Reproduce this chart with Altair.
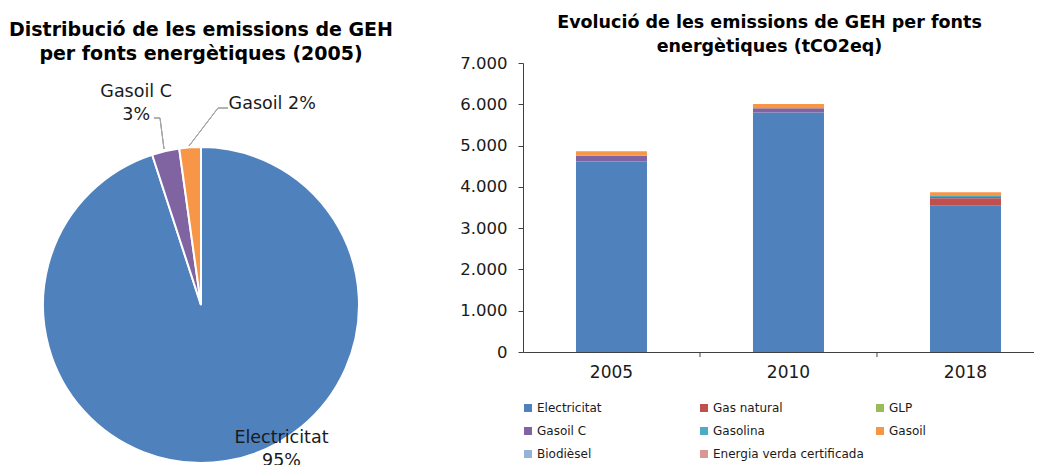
import altair as alt
import pandas as pd

years = ["2005", "2010", "2018"]
series = ["Electricitat", "Gas natural", "GLP", "Gasoil C", "Gasolina", "Gasoil",
          "Biodièsel", "Energia verda certificada"]
colors = ["#4F81BD", "#C0504D", "#9BBB59", "#8064A2", "#4BACC6", "#F79646",
          "#95B3D7", "#D99694"]

electricitat = [4617, 5804, 3552]
gas_natural = [0, 0, 170]
glp = [0, 0, 5]
gasoil_c = [136, 97, 25]
gasolina = [0, 0, 25]
gasoil = [107, 104, 90]
biodiesel = [0, 0, 0]
energia_verda = [0, 0, 0]

values = [electricitat, gas_natural, glp, gasoil_c, gasolina, gasoil, biodiesel, energia_verda]

rows = []
for i, s in enumerate(series):
    for j, y in enumerate(years):
        rows.append({"any": y, "font": s, "idx": i, "valor": values[i][j]})
df = pd.DataFrame(rows)

FONT = "DejaVu Sans"
TXT = "#1a1a1a"
AX = "#404040"

# ---------------- Pie (2005) ----------------
pie_df = df[(df["any"] == "2005") & (df["valor"] > 0)].reset_index(drop=True)

pie_base = alt.Chart(pie_df)

arcs = pie_base.mark_arc(radius=158, stroke="white", strokeWidth=2).encode(
    theta=alt.Theta("valor:Q", stack=True),
    order=alt.Order("idx:Q", sort="ascending"),
    color=alt.Color("font:N", scale=alt.Scale(domain=series, range=colors), legend=None),
)

lab_base = pie_base.transform_window(
    cum="sum(valor)", sort=[alt.SortField("idx", order="ascending")]
).transform_joinaggregate(
    total="sum(valor)"
).transform_calculate(
    frac="(datum.cum - datum.valor / 2) / datum.total",
    pct="format(round(datum.valor / datum.total * 100), 'd') + '%'",
)

def pie_label(name, sep, radius, dx, dy):
    return lab_base.transform_filter(
        alt.datum.font == name
    ).transform_calculate(
        lbl=f"datum.font + '{sep}' + datum.pct"
    ).mark_text(
        radius=radius, dx=dx, dy=dy, lineBreak="\n", font=FONT, fontSize=17.5,
        color=TXT, align="center", baseline="middle", lineHeight=23,
    ).encode(
        theta=alt.Theta("frac:Q", scale=alt.Scale(domain=[0, 1], range=[0, 6.283185307179586])),
        text="lbl:N",
    )

lbl_gc = pie_label("Gasoil C", "\\n", 200, -20, -18)
lbl_g = pie_label("Gasoil", " ", 200, 85, -1)
lbl_e = pie_label("Electricitat", "\\n", 150, 57, -15)

LEAD = "#A6A6A6"
def seg(x1, y1, x2, y2):
    return alt.Chart(pie_df).mark_rule(color=LEAD, strokeWidth=1).encode(
        x=alt.value(x1), y=alt.value(y1), x2=alt.value(x2), y2=alt.value(y2)
    )

OX, OY = 8, 63
leaders = (
    seg(154 - OX, 118 - OY, 160 - OX, 118 - OY)
    + seg(160 - OX, 118 - OY, 164 - OX, 149 - OY)
    + seg(189 - OX, 146 - OY, 218 - OX, 108 - OY)
    + seg(218 - OX, 108 - OY, 228 - OX, 108 - OY)
)

pie = alt.layer(arcs, leaders, lbl_gc, lbl_g, lbl_e).resolve_scale(theta="independent").properties(
    width=386, height=484,
    title=alt.Title(
        ["Distribució de les emissions de GEH", "per fonts energètiques (2005)"],
        font=FONT, fontSize=19, fontWeight="bold", color="black", lineHeight=24,
        anchor="middle", offset=-1,
    ),
)

# ---------------- Stacked bars ----------------
xscale = alt.Scale(paddingInner=0.599, paddingOuter=0.243, align=0.616)

bars = alt.Chart(df).mark_bar(size=71).encode(
    x=alt.X(
        "any:N",
        sort=years,
        scale=xscale,
        axis=alt.Axis(
            title=None, labelAngle=0, ticks=False,
            labelFont=FONT, labelFontSize=17, labelColor=TXT, labelPadding=12,
            domainColor=AX,
        ),
    ),
    y=alt.Y(
        "valor:Q",
        stack="zero",
        scale=alt.Scale(domain=[0, 7000], nice=False),
        axis=alt.Axis(
            title=None, grid=False, values=list(range(0, 7001, 1000)),
            labelExpr="replace(format(datum.value, ','), ',', '.')",
            tickSize=5, labelPadding=11, labelFont=FONT, labelFontSize=16.5,
            labelColor=TXT, domainColor=AX, tickColor=AX,
        ),
    ),
    color=alt.Color(
        "font:N",
        scale=alt.Scale(domain=series, range=colors),
        legend=alt.Legend(
            title=None, orient="none", legendX=-1, legendY=339, direction="horizontal",
            columns=3, gridAlign="all", symbolType="square", symbolSize=64,
            symbolStrokeWidth=0, labelFont=FONT, labelFontSize=12, labelColor=TXT,
            labelOffset=3, columnPadding=10, rowPadding=11, labelLimit=300,
        ),
    ),
    order=alt.Order("idx:Q", sort="ascending"),
)

# category-boundary tick marks (Excel style), half a step left of each later category
xticks = alt.Chart(df).transform_filter(
    (alt.datum.font == "Electricitat") & (alt.datum.any != "2005")
).mark_rule(color=AX, strokeWidth=1, xOffset=-88.5).encode(
    x=alt.X("any:N", sort=years, scale=xscale),
    y=alt.value(289),
    y2=alt.value(294),
)

barchart = alt.layer(bars, xticks).properties(
    width=511, height=289,
    title=alt.Title(
        ["Evolució de les emissions de GEH per fonts", "energètiques (tCO2eq)"],
        font=FONT, fontSize=17.5, fontWeight="bold", color="black", lineHeight=24,
        anchor="middle", offset=0, dx=-9,
    ),
)

chart = alt.hconcat(pie, barchart, spacing=65).resolve_scale(color="independent").configure(
    padding={"top": 5, "left": 0, "right": 0, "bottom": 0}, font=FONT
).configure_view(stroke=None)

chart.save("out.html", embed_options={"renderer": "svg", "actions": False})
